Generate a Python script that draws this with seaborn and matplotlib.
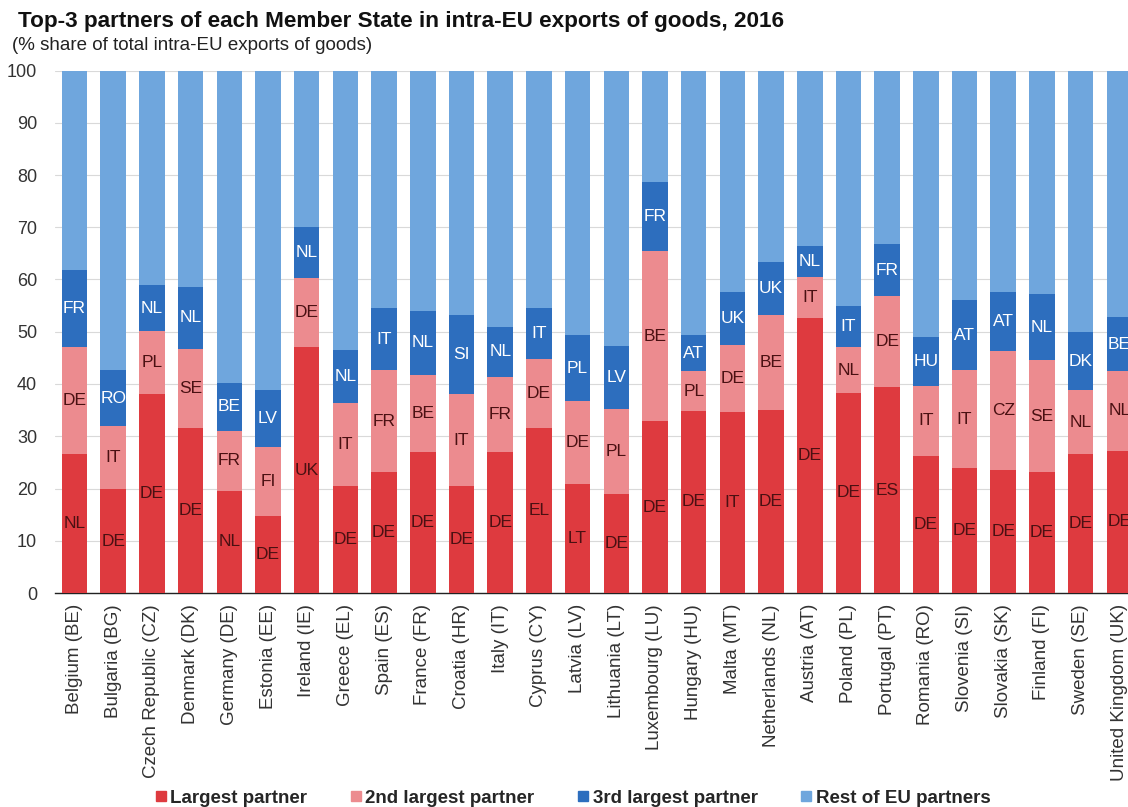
import matplotlib
matplotlib.use("Agg")
import matplotlib.pyplot as plt
from matplotlib.lines import Line2D
import numpy as np
import pandas as pd
import seaborn as sns

# Member States (reporting countries)
countries = [
    "Belgium (BE)", "Bulgaria (BG)", "Czech Republic (CZ)", "Denmark (DK)",
    "Germany (DE)", "Estonia (EE)", "Ireland (IE)", "Greece (EL)", "Spain (ES)",
    "France (FR)", "Croatia (HR)", "Italy (IT)", "Cyprus (CY)", "Latvia (LV)",
    "Lithuania (LT)", "Luxembourg (LU)", "Hungary (HU)", "Malta (MT)",
    "Netherlands (NL)", "Austria (AT)", "Poland (PL)", "Portugal (PT)",
    "Romania (RO)", "Slovenia (SI)", "Slovakia (SK)", "Finland (FI)",
    "Sweden (SE)", "United Kingdom (UK)",
]

# % share of total intra-EU exports of goods
largest_share = [26.6, 19.9, 38.0, 31.5, 19.6, 14.7, 47.0, 20.4, 23.1, 26.9,
                 20.4, 26.9, 31.5, 20.9, 19.0, 32.9, 34.9, 34.7, 35.0, 52.7,
                 38.3, 39.4, 26.2, 23.9, 23.5, 23.1, 26.6, 27.2]
second_share = [20.4, 12.1, 12.1, 15.2, 11.4, 13.2, 13.3, 16.0, 19.5, 14.9,
                17.6, 14.5, 13.2, 15.8, 16.3, 32.5, 7.5, 12.8, 18.2, 7.8,
                8.7, 17.4, 13.5, 18.7, 22.9, 21.4, 12.2, 15.3]
third_share = [14.8, 10.6, 8.8, 11.9, 9.2, 10.9, 9.7, 10.2, 11.9, 12.1,
               15.2, 9.5, 9.8, 12.7, 11.9, 13.2, 7.0, 10.2, 10.2, 6.0,
               7.9, 10.0, 9.2, 13.5, 11.3, 12.8, 11.1, 10.3]

# Partner codes shown inside each segment
largest_partner = ["NL", "DE", "DE", "DE", "NL", "DE", "UK", "DE", "DE", "DE",
                   "DE", "DE", "EL", "LT", "DE", "DE", "DE", "IT", "DE", "DE",
                   "DE", "ES", "DE", "DE", "DE", "DE", "DE", "DE"]
second_partner = ["DE", "IT", "PL", "SE", "FR", "FI", "DE", "IT", "FR", "BE",
                  "IT", "FR", "DE", "DE", "PL", "BE", "PL", "DE", "BE", "IT",
                  "NL", "DE", "IT", "IT", "CZ", "SE", "NL", "NL"]
third_partner = ["FR", "RO", "NL", "NL", "BE", "LV", "NL", "NL", "IT", "NL",
                 "SI", "NL", "IT", "PL", "LV", "FR", "AT", "UK", "UK", "NL",
                 "IT", "FR", "HU", "AT", "AT", "NL", "DK", "BE"]

series_names = ["Largest partner", "2nd largest partner",
                "3rd largest partner", "Rest of EU partners"]
colors = ["#DE3A3F", "#EC8B8F", "#2D6EBE", "#6FA6DD"]

df = pd.DataFrame({
    "country": countries,
    "largest": largest_share,
    "second": second_share,
    "third": third_share,
})
df["top1"] = df["largest"]
df["top2"] = df["top1"] + df["second"]
df["top3"] = df["top2"] + df["third"]
df["total"] = 100.0

sns.set_theme(style="white")
plt.rcParams["font.family"] = ["Liberation Sans", "DejaVu Sans"]

W, H = 1128, 807
fig = plt.figure(figsize=(W / 100, H / 100), dpi=100)
left_px, right_px, top_px, bottom_px = 55.2, 1138.7, 70.5, 593.0
ax = fig.add_axes([left_px / W, 1 - bottom_px / H,
                   (right_px - left_px) / W, (bottom_px - top_px) / H])

# Stacked bars drawn as overlaid cumulative bars (tallest first)
bar_w = 0.66
for col, color in zip(["total", "top3", "top2", "top1"], colors[::-1]):
    sns.barplot(data=df, x="country", y=col, color=color, width=bar_w,
                saturation=1, ax=ax, zorder=3, edgecolor="none")

# Segment labels
dark_txt = "#4A1012"
for i in range(len(countries)):
    t1, t2, t3 = df.loc[i, "top1"], df.loc[i, "top2"], df.loc[i, "top3"]
    ax.text(i, t1 / 2, largest_partner[i], ha="center", va="center",
            fontsize=12.5, color=dark_txt, zorder=5)
    ax.text(i, (t1 + t2) / 2, second_partner[i], ha="center", va="center",
            fontsize=12.5, color=dark_txt, zorder=5)
    ax.text(i, (t2 + t3) / 2, third_partner[i], ha="center", va="center",
            fontsize=12.5, color="white", zorder=5)

ax.set_xlim(-0.5, len(countries) - 0.5)
ax.set_ylim(0, 100)
ax.set_yticks(np.arange(0, 101, 10))
ax.yaxis.grid(True, color="#D9D9D9", linewidth=0.8, zorder=0)
ax.set_axisbelow(True)
ax.set_xlabel("")
ax.set_ylabel("")

for s in ["top", "right", "left"]:
    ax.spines[s].set_visible(False)
ax.spines["bottom"].set_color("#222222")
ax.spines["bottom"].set_linewidth(1.0)

ax.set_xticks(np.arange(len(countries)))
ax.set_xticklabels(countries, rotation=90, fontsize=13.5, color="#333333")
ax.set_xticks(np.arange(len(countries) + 1) - 0.5, minor=True)
ax.tick_params(axis="x", which="major", length=0, pad=8)
ax.tick_params(axis="x", which="minor", length=4, width=1, color="#222222",
               direction="out")
ax.tick_params(axis="y", length=0, pad=13, labelsize=13, labelcolor="#333333")

# Titles
fig.text(18 / W, 1 - 22 / H, "Top-3 partners of each Member State in intra-EU exports of goods, 2016",
         fontsize=16.2, fontweight="bold", color="#111111", va="center", ha="left")
fig.text(12 / W, 1 - 46 / H, "(% share of total intra-EU exports of goods)",
         fontsize=13.5, color="#222222", va="center", ha="left")

# Legend
handles = [Line2D([0], [0], marker="s", linestyle="none", markersize=7,
                  markerfacecolor=c, markeredgecolor=c) for c in colors]
fig.legend(handles, series_names, loc="center", bbox_to_anchor=(572 / W, 1 - 798 / H),
           ncol=4, frameon=False, handletextpad=0.1, columnspacing=2.2,
           handlelength=0.8, prop={"weight": "bold", "size": 13.5})

fig.savefig("out.png", dpi=100)
